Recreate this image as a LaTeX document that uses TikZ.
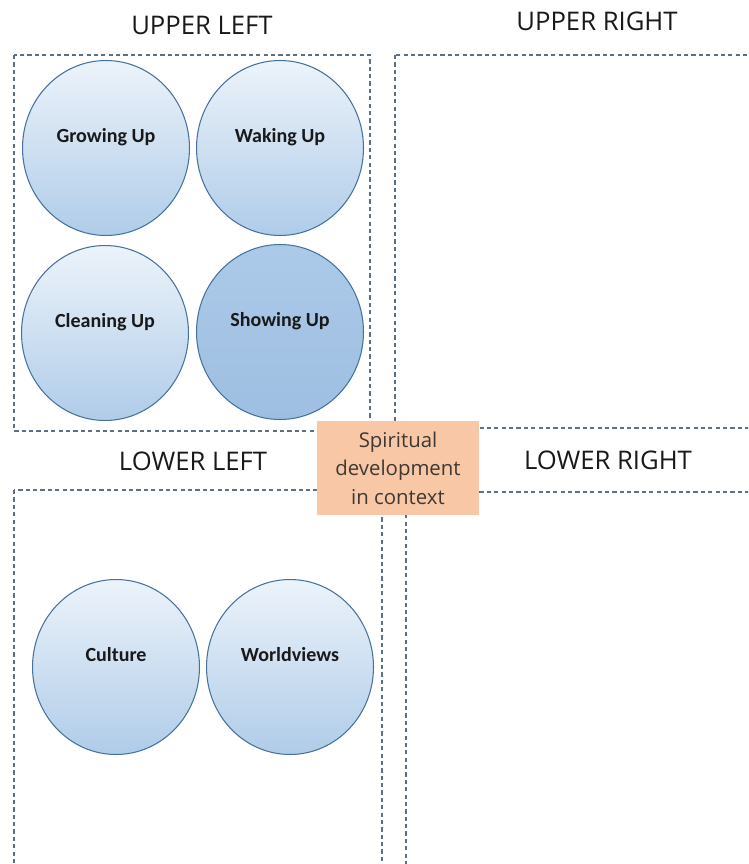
\documentclass[tikz,border=0pt]{standalone}
\usepackage{fontspec}
\setmainfont{Carlito}
\newfontfamily\labelfont{Open Sans}
\usetikzlibrary{shapes.geometric}

\begin{document}
\begin{tikzpicture}[x=0.02cm, y=-0.02cm,
    quadrant/.style={draw=dashgray, line width=0.6pt, dash pattern=on 2.4pt off 1.8pt},
    heading/.style={text=headtext, font=\labelfont\fontsize{14.6}{18}\selectfont, inner sep=0pt},
    bubble/.style={ellipse, draw=bubbleline, line width=0.6pt, top color=bubbletop, bottom color=bubblebottom,
        minimum width=3.34cm, minimum height=3.5cm, inner sep=0pt,
        text height=7pt, text depth=12.7pt, font=\bfseries\fontsize{11.4}{13}\selectfont, text=headtext},
    focus/.style={bubble, top color=focustop, bottom color=focusbottom}
]

            % Define colors
            \definecolor{dashgray}{RGB}{92,112,132}
            \definecolor{headtext}{RGB}{25,25,25}
            \definecolor{bubbleline}{RGB}{70,114,156}
            \definecolor{bubbletop}{RGB}{236,243,250}
            \definecolor{bubblebottom}{RGB}{176,204,233}
            \definecolor{focustop}{RGB}{172,201,232}
            \definecolor{focusbottom}{RGB}{158,191,226}
            \definecolor{peach}{RGB}{248,199,165}
            \definecolor{peachtext}{RGB}{62,56,52}

            \clip (0,0) rectangle (748,864);
            \fill[white] (0,0) rectangle (748,864);

            % Quadrant frames
            \draw[quadrant] (14,55) rectangle (370,431);
            \draw[quadrant] (395,55) rectangle (770,428);
            \draw[quadrant] (14,490) rectangle (382,890);
            \draw[quadrant] (406,492) rectangle (770,890);

            % Quadrant headings
            \node[heading] (ul) at (202,25) {UPPER LEFT};
            \node[heading] (ur) at (597,21) {UPPER RIGHT};
            \node[heading] (ll) at (193,461) {LOWER LEFT};
            \node[heading] (lr) at (608,460) {LOWER RIGHT};

            % Upper left: the four "ups"
            \node[bubble] (grow) at (106,148) {Growing Up};
            \node[bubble] (wake) at (280,148) {Waking Up};
            \node[bubble] (clean) at (105,333) {Cleaning Up};
            \node[focus] (show) at (280,332) {Showing Up};

            % Lower left: collective interior
            \node[bubble] (culture) at (116,667) {Culture};
            \node[bubble] (world) at (290,667) {Worldviews};

            % Centre box over the crossing
            \node[fill=peach, minimum width=3.24cm, minimum height=1.88cm, inner sep=0pt, align=center,
                text=peachtext, font=\labelfont\fontsize{11.6}{16.2}\selectfont] (centre) at (398,468)
                {Spiritual\\development\\in context};

\end{tikzpicture}
\end{document}
